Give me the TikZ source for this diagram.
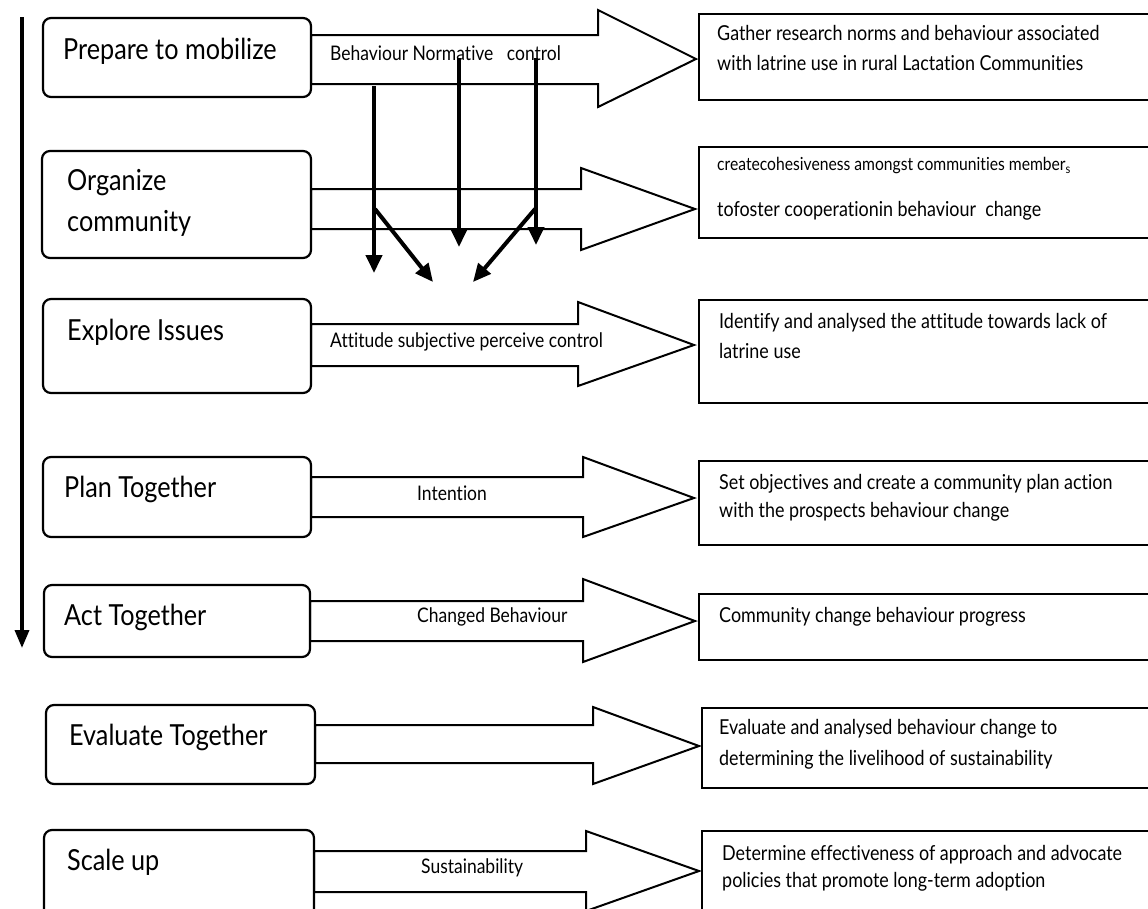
\documentclass[tikz,border=0pt]{standalone}
\usepackage{fontspec}
\setmainfont[FakeStretch=0.87,Ligatures=NoCommon]{Lato}
\usetikzlibrary{arrows.meta}
\tikzset{
  stagebox/.style={draw, line width=2.2pt, rounded corners=8pt, inner sep=0pt, fill=white},
  stagetxt/.style={anchor=west, inner sep=0pt, font=\fontsize{29}{33}\selectfont},
  blockarrow/.style={draw, line width=2pt, fill=white, line join=miter},
  arrowtxt/.style={anchor=west, inner sep=0pt, font=\fontsize{20.1}{24}\selectfont},
  outbox/.style={draw, line width=2pt, anchor=north west, inner sep=0pt, minimum width=470pt},
  outtxt/.style={anchor=west, inner sep=0pt, font=\fontsize{20.6}{24}\selectfont},
  smalltxt/.style={anchor=west, inner sep=0pt, font=\fontsize{18}{21}\selectfont},
  thickarrow/.style={line width=4pt, -{Triangle[length=18pt,width=16pt]}},
  timearrow/.style={line width=3.5pt, -{Triangle[length=18pt,width=14pt]}},
}
\newcommand\myblockarrow[8]{%
  \draw[blockarrow] (#1,#2) -- (#4,#2) -- (#4,#5) -- (#7,#8) -- (#4,#6) -- (#4,#3) -- (#1,#3) -- cycle;}
\begin{document}
\begin{tikzpicture}[x=1pt,y=-1pt]
\clip (0,0) rectangle (1148,908);
\fill[white] (0,0) rectangle (1148,908);

% block arrows
\myblockarrow{311}{35}{84}{598}{10}{107}{696}{59}
\myblockarrow{311}{189}{229}{581}{168}{250}{695}{209}
\myblockarrow{311}{324}{366}{578}{302}{386}{694}{345}
\myblockarrow{311}{477}{517}{583}{457}{537}{694}{498}
\myblockarrow{310}{601}{641}{583}{579}{662}{695}{621}
\myblockarrow{315}{725}{763}{593}{707}{784}{699}{746}
\myblockarrow{314}{851}{892}{586}{831}{911}{699}{871}

% stage boxes
\node[stagebox, minimum width=268pt, minimum height=79pt]  (b1) at (177,57.5) {};
\node[stagebox, minimum width=269pt, minimum height=107pt] (b2) at (176.5,204.5) {};
\node[stagebox, minimum width=268pt, minimum height=94pt]  (b3) at (177,346) {};
\node[stagebox, minimum width=268pt, minimum height=80pt]  (b4) at (177,497) {};
\node[stagebox, minimum width=266pt, minimum height=72pt]  (b5) at (177,621) {};
\node[stagebox, minimum width=269pt, minimum height=79pt]  (b6) at (180.5,744.5) {};
\node[stagebox, minimum width=270pt, minimum height=100pt] (b7) at (179,880) {};

\node[stagetxt] (t1)  at (63,51)  {Prepare to mobilize};
\node[stagetxt] (t2a) at (67,183) {Organize};
\node[stagetxt] (t2b) at (67,223) {community};
\node[stagetxt] (t3)  at (67,332) {Explore Issues};
\node[stagetxt] (t4)  at (64,489) {Plan Together};
\node[stagetxt] (t5)  at (64,617) {Act Together};
\node[stagetxt] (t6)  at (69,737) {Evaluate Together};
\node[stagetxt] (t7)  at (67,862) {Scale up};

% arrow labels
\node[arrowtxt] (l1) at (330,53)  {Behaviour Normative\ \ \ control};
\node[arrowtxt] (l3) at (330,342) {Attitude subjective perceive control};
\node[arrowtxt] (l4) at (417,493) {Intention};
\node[arrowtxt] (l5) at (417,617) {Changed Behaviour};
\node[arrowtxt] (l7) at (421,868) {Sustainability};

% outcome boxes
\node[outbox, minimum height=86pt]  (r1) at (698,13)  {};
\node[outbox, minimum height=91pt]  (r2) at (698,146) {};
\node[outbox, minimum height=103pt] (r3) at (698,299) {};
\node[outbox, minimum height=84pt]  (r4) at (698,460) {};
\node[outbox, minimum height=66pt]  (r5) at (698,593) {};
\node[outbox, minimum height=80pt]  (r6) at (701,707) {};
\node[outbox, minimum height=100pt] (r7) at (701,830) {};

\node[outtxt] (r1a) at (717,33)  {Gather research norms and behaviour associated};
\node[outtxt] (r1b) at (717,63)  {with latrine use in rural Lactation Communities};
\node[smalltxt] (r2a) at (717,166) {createcohesiveness amongst communities member\textsubscript{s}};
\node[outtxt] (r2b) at (717,211) {tofoster cooperationin behaviour\ \ change};
\node[outtxt] (r3a) at (719,323) {Identify and analysed the attitude towards lack of};
\node[outtxt] (r3b) at (719,351) {latrine use};
\node[outtxt] (r4a) at (719,484) {Set objectives and create a community plan action};
\node[outtxt] (r4b) at (719,512) {with the prospects behaviour change};
\node[outtxt] (r5a) at (719,617) {Community change behaviour progress};
\node[outtxt] (r6a) at (719,729) {Evaluate and analysed behaviour change to};
\node[outtxt] (r6b) at (719,760) {determining the livelihood of sustainability};
\node[outtxt] (r7a) at (722,855) {Determine effectiveness of approach and advocate};
\node[outtxt] (r7b) at (722,882) {policies that promote long-term adoption};

% thick influence arrows
\coordinate (pa) at (374,86);  \coordinate (pae) at (374,273);
\coordinate (pb) at (459,58);  \coordinate (pbe) at (459,247);
\coordinate (pc) at (536,58);  \coordinate (pce) at (536,245);
\coordinate (pd) at (375,209); \coordinate (pde) at (433,282);
\coordinate (pe) at (535,209); \coordinate (pee) at (473,282);
\draw[thickarrow] (pa) -- (pae);
\draw[thickarrow] (pb) -- (pbe);
\draw[thickarrow] (pc) -- (pce);
\draw[thickarrow] (pd) -- (pde);
\draw[thickarrow] (pe) -- (pee);

% time arrow
\coordinate (v0) at (22,17); \coordinate (v1) at (22,648);
\draw[timearrow] (v0) -- (v1);
\end{tikzpicture}
\end{document}
